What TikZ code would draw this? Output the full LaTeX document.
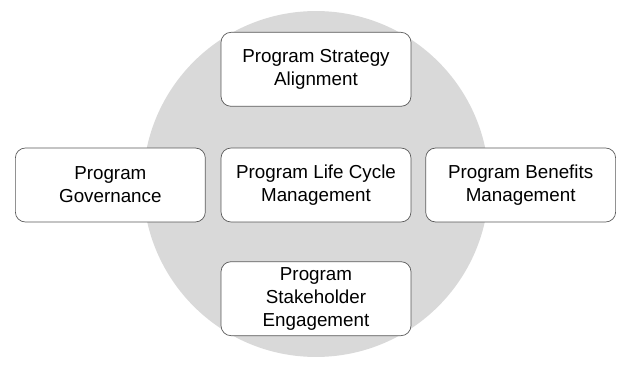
\documentclass[tikz,border=0pt]{standalone}
\usepackage{fontspec}
\setmainfont{Liberation Sans}
\usepackage{xcolor}
\usetikzlibrary{positioning}
\definecolor{ringgray}{HTML}{D9D9D9}
\definecolor{edgegray}{HTML}{595959}

\begin{document}
\begin{tikzpicture}[x=0.02cm,y=-0.02cm,
  area/.style={draw=edgegray,fill=white,rounded corners=0.2cm,
    minimum width=3.8cm,minimum height=1.48cm,align=center,inner sep=2pt,
    font=\fontsize{10.7}{13}\selectfont}]
  \useasboundingbox (0,0) rectangle (630,372);
  \fill[ringgray] (316,184) circle[radius=3.46cm];

  \node[area] (life) at (316,185) {Program Life Cycle\\Management};
  \node[area,above=0.82cm of life] (strategy) {Program Strategy\\Alignment};
  \node[area,below=0.78cm of life] (stake) {Program\\Stakeholder\\Engagement};
  \node[area,left=0.3cm of life] (gov) {Program\\Governance};
  \node[area,right=0.28cm of life] (benefit) {Program Benefits\\Management};
\end{tikzpicture}
\end{document}
